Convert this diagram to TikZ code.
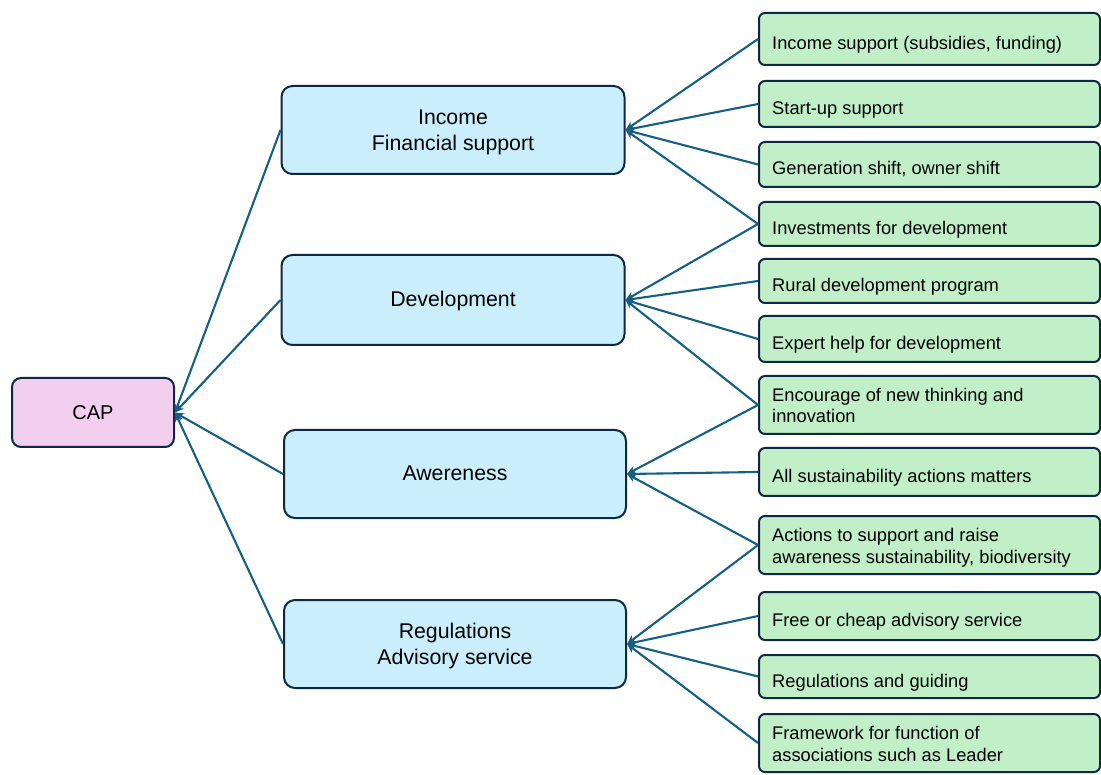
\documentclass[tikz,border=0pt]{standalone}
\usepackage{fontspec}
\setmainfont{Liberation Sans}
\usetikzlibrary{arrows.meta}
\definecolor{bordc}{HTML}{0E2841}
\definecolor{linec}{HTML}{156082}
\definecolor{pinkf}{HTML}{F2CEEF}
\definecolor{bluef}{HTML}{CAEEFB}
\definecolor{greenf}{HTML}{C1F0C8}
\begin{document}
\begin{tikzpicture}[x=1pt,y=-1pt,
  base/.style={draw=bordc, line width=2pt},
  capbox/.style={base, fill=pinkf, rounded corners=9pt, minimum width=162pt, minimum height=69pt},
  bluebox/.style={base, fill=bluef, rounded corners=11pt, minimum width=343pt, minimum height=88pt},
  greenbox/.style={base, fill=greenf, rounded corners=6pt, minimum width=341pt},
  captext/.style={inner sep=0pt, anchor=base, font=\fontsize{20}{24}\selectfont},
  bluetext/.style={inner sep=0pt, anchor=base, align=center, font=\fontsize{21.3}{26}\selectfont},
  greentext/.style={inner sep=0pt, anchor=base west, align=left, font=\fontsize{18.3}{21.5}\selectfont},
  conn/.style={draw=linec, line width=2.1pt, -{Stealth[length=9pt,width=8pt]}}
]
\useasboundingbox (0,0) rectangle (1101,775);
% boxes
\node[capbox] (cap) at (93,412.5) {};
\node[bluebox] (inc) at (453,130) {};
\node[bluebox, minimum height=90pt] (dev) at (453,300) {};
\node[bluebox, minimum width=342pt] (awe) at (455,474) {};
\node[bluebox, minimum width=342pt] (reg) at (455,644) {};

\node[greenbox, minimum height=52pt] (g1) at (929.5,39) {};
\node[greenbox, minimum height=46pt] (g2) at (929.5,104) {};
\node[greenbox, minimum height=45pt] (g3) at (929.5,164.5) {};
\node[greenbox, minimum height=44pt] (g4) at (929.5,224) {};
\node[greenbox, minimum height=44pt] (g5) at (929.5,281) {};
\node[greenbox, minimum height=46pt] (g6) at (929.5,339) {};
\node[greenbox, minimum height=58pt] (g7) at (929.5,405) {};
\node[greenbox, minimum height=48pt] (g8) at (929.5,472) {};
\node[greenbox, minimum height=58pt] (g9) at (929.5,545) {};
\node[greenbox, minimum height=48pt] (g10) at (929.5,616) {};
\node[greenbox, minimum height=43pt] (g11) at (929.5,676.5) {};
\node[greenbox, minimum height=58pt] (g12) at (929.5,743) {};

% texts
\node[captext] (tcap) at ([yshift=-7pt]cap.center) {CAP};
\node[bluetext] (tinc) at ([yshift=-21pt]inc.center) {Income\\Financial support};
\node[bluetext] (tdev) at ([yshift=-7pt]dev.center) {Development};
\node[bluetext] (tawe) at ([yshift=-7pt]awe.center) {Awereness};
\node[bluetext] (treg) at ([yshift=-20pt]reg.center) {Regulations\\Advisory service};

\node[greentext] (t1) at ([xshift=14pt,yshift=-10.5pt]g1.west) {Income support (subsidies, funding)};
\node[greentext] (t2) at ([xshift=14pt,yshift=-10.5pt]g2.west) {Start-up support};
\node[greentext] (t3) at ([xshift=14pt,yshift=-10.5pt]g3.west) {Generation shift, owner shift};
\node[greentext] (t4) at ([xshift=14pt,yshift=-10.5pt]g4.west) {Investments for development};
\node[greentext] (t5) at ([xshift=14pt,yshift=-10.5pt]g5.west) {Rural development program};
\node[greentext] (t6) at ([xshift=14pt,yshift=-10.5pt]g6.west) {Expert help for development};
\node[greentext] (t7) at ([xshift=14pt,yshift=-18pt]g7.west) {Encourage of new thinking and\\innovation};
\node[greentext] (t8) at ([xshift=14pt,yshift=-10.5pt]g8.west) {All sustainability actions matters};
\node[greentext] (t9) at ([xshift=14pt,yshift=-18pt]g9.west) {Actions to support and raise\\awareness sustainability, biodiversity};
\node[greentext] (t10) at ([xshift=14pt,yshift=-10.5pt]g10.west) {Free or cheap advisory service};
\node[greentext] (t11) at ([xshift=14pt,yshift=-10.5pt]g11.west) {Regulations and guiding};
\node[greentext] (t12) at ([xshift=14pt,yshift=-18pt]g12.west) {Framework for function of\\associations such as Leader};

% connectors
\foreach \b in {inc,dev,awe,reg} \draw[conn] (\b.west) -- (cap.east);
\foreach \g in {g1,g2,g3,g4} \draw[conn] (\g.west) -- (inc.east);
\foreach \g in {g4,g5,g6,g7} \draw[conn] (\g.west) -- (dev.east);
\foreach \g in {g7,g8,g9} \draw[conn] (\g.west) -- (awe.east);
\foreach \g in {g9,g10,g11,g12} \draw[conn] (\g.west) -- (reg.east);
\end{tikzpicture}
\end{document}
